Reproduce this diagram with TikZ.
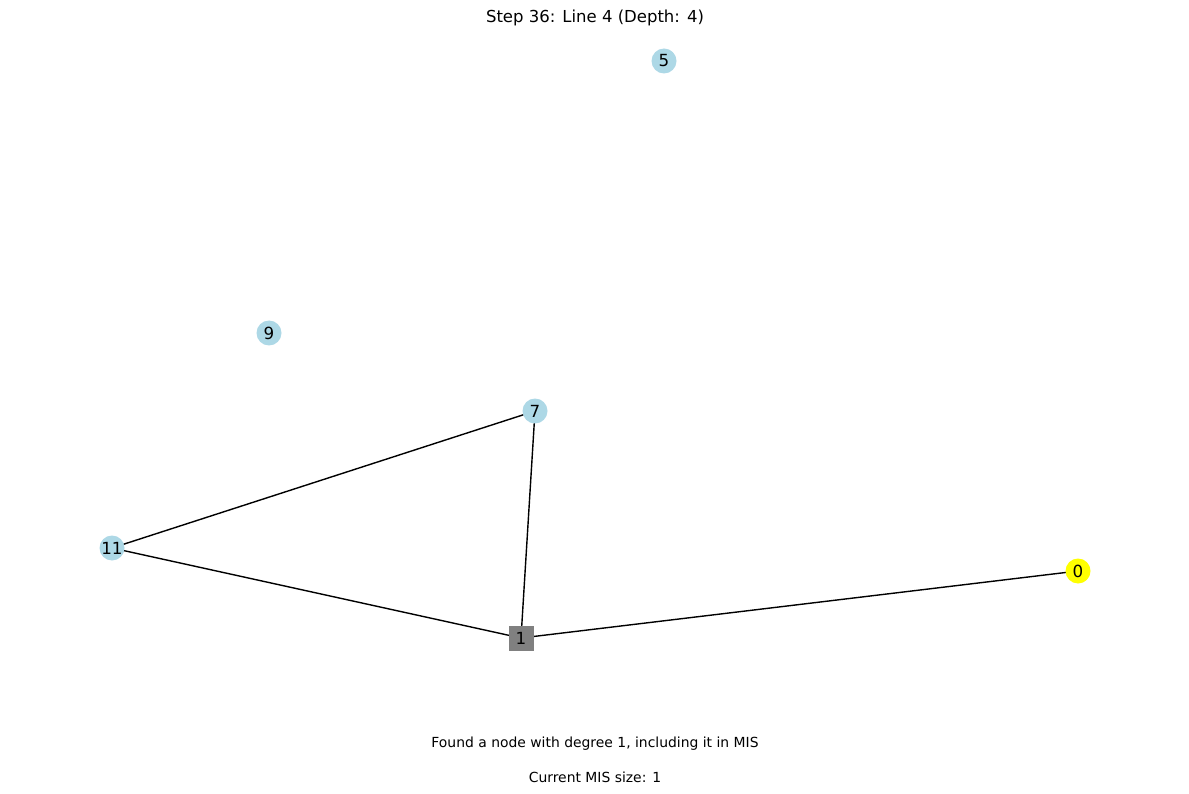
\documentclass[tikz,border=0pt]{standalone}
\usepackage{fontspec}
\setmainfont{DejaVu Sans}
\usetikzlibrary{backgrounds}
\definecolor{lblue}{HTML}{ADD8E6}
\definecolor{ngray}{HTML}{808080}
\definecolor{nyellow}{HTML}{FFFF00}
\begin{document}
\begin{tikzpicture}[x=1pt,y=-1pt,
  vnode/.style={circle,fill=lblue,minimum size=25pt,inner sep=0pt,font=\fontsize{16.7}{20}\selectfont},
  ynode/.style={vnode,fill=nyellow},
  snode/.style={rectangle,fill=ngray,minimum size=25pt,inner sep=0pt,font=\fontsize{16.7}{20}\selectfont},
  edge/.style={draw=black,line width=1.4pt},
  txt/.style={font=\fontsize{13.9}{16}\selectfont,inner sep=0pt}]
\useasboundingbox (0,0) rectangle (1189,794);
\node[vnode] (n5) at (664,61) {5};
\node[vnode] (n9) at (269,333) {9};
\node[vnode] (n7) at (535,411) {7};
\node[vnode] (n11) at (112,548) {11};
\node[snode] (n1) at (521,638) {1};
\node[ynode] (n0) at (1078,571) {0};
\begin{scope}[on background layer]
\draw[edge] (n11.center) -- (n7.center);
\draw[edge] (n11.center) -- (n1.center);
\draw[edge] (n7.center) -- (n1.center);
\draw[edge] (n1.center) -- (n0.center);
\end{scope}
\node[font=\fontsize{16.5}{20}\selectfont,inner sep=0pt] (title) at (595,18) {Step 36: Line 4 (Depth: 4)};
\node[txt] (msg) at (595,744) {Found a node with degree 1, including it in MIS};
\node[txt] (size) at (595,777) {Current MIS size: 1};
\end{tikzpicture}
\end{document}
